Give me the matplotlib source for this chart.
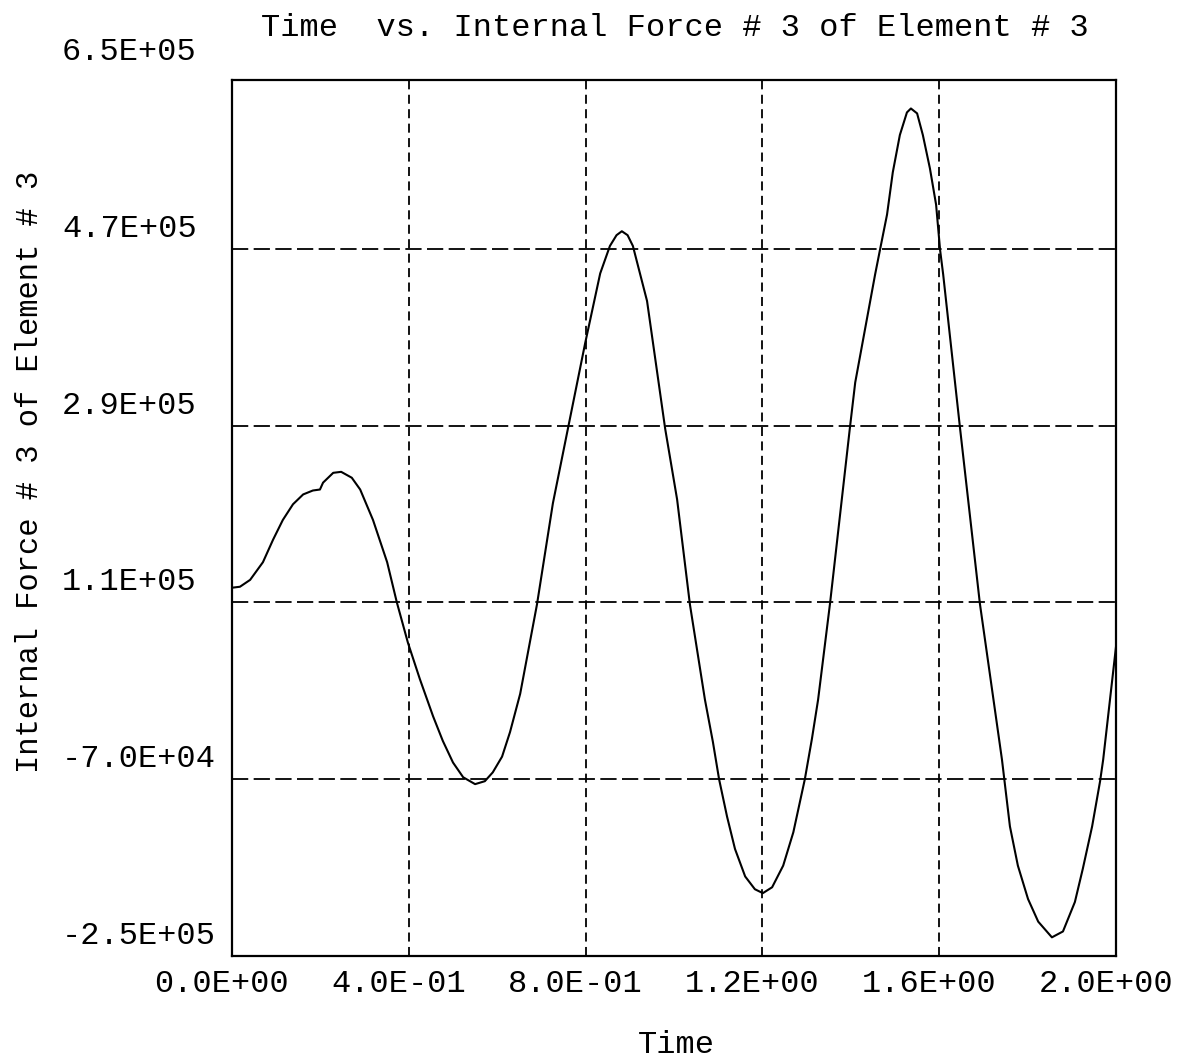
import matplotlib
matplotlib.use("Agg")
import matplotlib.pyplot as plt
import matplotlib.transforms as mtransforms

# time history
time = [0.0, 0.018, 0.041, 0.070, 0.093, 0.115, 0.138, 0.161, 0.183, 0.199,
        0.206, 0.229, 0.247, 0.271, 0.290, 0.319,
        0.351, 0.373, 0.398, 0.425, 0.455, 0.477, 0.500, 0.523, 0.550, 0.572,
        0.590, 0.611, 0.629, 0.652, 0.690, 0.726, 0.760, 0.799, 0.833, 0.855,
        0.870, 0.882, 0.895, 0.907, 0.939, 0.980, 1.007, 1.036, 1.070, 1.088,
        1.102, 1.120, 1.138, 1.161, 1.183, 1.201, 1.222, 1.247, 1.270, 1.296,
        1.312, 1.326, 1.353, 1.398, 1.410, 1.455, 1.466, 1.482, 1.495, 1.511,
        1.527, 1.536, 1.550, 1.563, 1.579, 1.593, 1.602, 1.609, 1.647, 1.692,
        1.742, 1.760, 1.778, 1.801, 1.824, 1.855, 1.880, 1.907, 1.925, 1.946,
        1.964, 1.971, 2.0]
force = [125000, 126000, 133000, 151000, 174000, 194000, 210000, 220000, 224000, 225000,
         232000, 242000, 243000, 237000, 225000, 194000,
         151000, 110000, 69000, 32000, -6000, -31000, -53000, -68000, -75000, -72000,
         -63000, -47000, -22000, 17000, 108000, 211000, 287000, 374000, 445000, 473000,
         484000, 488000, 484000, 473000, 417000, 287000, 215000, 108000, 11000, -32000,
         -70000, -108000, -141000, -169000, -182000, -186000, -180000, -158000, -124000, -70000,
         -29000, 11000, 109000, 288000, 334000, 444000, 469000, 505000, 548000, 586000,
         609000, 613000, 608000, 586000, 552000, 515000, 469000, 444000, 288000, 109000,
         -50000, -118000, -158000, -192000, -215000, -231000, -225000, -195000, -161000, -118000,
         -72000, -50000, 65000]

xticks = [0.0, 0.4, 0.8, 1.2, 1.6, 2.0]
xtick_labels = ["0.0E+00", "4.0E-01", "8.0E-01", "1.2E+00", "1.6E+00", "2.0E+00"]
yticks = [-2.5e5, -7.0e4, 1.1e5, 2.9e5, 4.7e5, 6.5e5]
ytick_labels = ["-2.5E+05", "-7.0E+04", "1.1E+05", "2.9E+05", "4.7E+05", "6.5E+05"]

plt.rcParams['font.family'] = ['Liberation Mono', 'DejaVu Sans Mono']
fs = 23

fig = plt.figure(figsize=(11.87, 10.64), dpi=100)
W, H = 1187, 1064
ax = fig.add_axes([232 / W, 1 - 956 / H, (1116 - 232) / W, (956 - 80) / H])

ax.plot(time, force, color='black', lw=1.5, solid_joinstyle='round')

ax.set_xlim(0, 2.0)
ax.set_ylim(-2.5e5, 6.42e5)

# grid lines only at interior ticks
for x in xticks[1:-1]:
    ax.axvline(x, color='black', lw=1.3, linestyle=(0, (5, 3)))
for y in yticks[1:-1]:
    ax.axhline(y, color='black', lw=1.3, linestyle=(0, (9, 3)))

ax.set_xticks([])
ax.set_yticks([])
for s in ax.spines.values():
    s.set_linewidth(1.6)

# tick labels: y labels sit a bit above their value, left aligned
ytrans = mtransforms.blended_transform_factory(fig.transFigure, ax.transData)
yoff = mtransforms.ScaledTranslation(0, 20 / 100, fig.dpi_scale_trans)
for v, lab in zip(yticks, ytick_labels):
    ax.text(62 / W, v, lab, transform=ytrans + yoff, ha='left', va='center',
            fontsize=fs, clip_on=False)

xtrans = mtransforms.blended_transform_factory(ax.transData, fig.transFigure)
xoff = mtransforms.ScaledTranslation(-10 / 100, 0, fig.dpi_scale_trans)
for v, lab in zip(xticks, xtick_labels):
    ax.text(v, 1 - 984 / H, lab, transform=xtrans + xoff, ha='center', va='center',
            fontsize=fs, clip_on=False)

fig.text(675 / W, 1 - 28 / H, "Time  vs. Internal Force # 3 of Element # 3",
         ha='center', va='center', fontsize=fs)
fig.text(676 / W, 1 - 1045 / H, "Time", ha='center', va='center', fontsize=fs)
fig.text(30 / W, 1 - 472 / H, "Internal Force # 3 of Element # 3", rotation=90,
         ha='center', va='center', fontsize=22)

fig.savefig("out.png", dpi=100)
